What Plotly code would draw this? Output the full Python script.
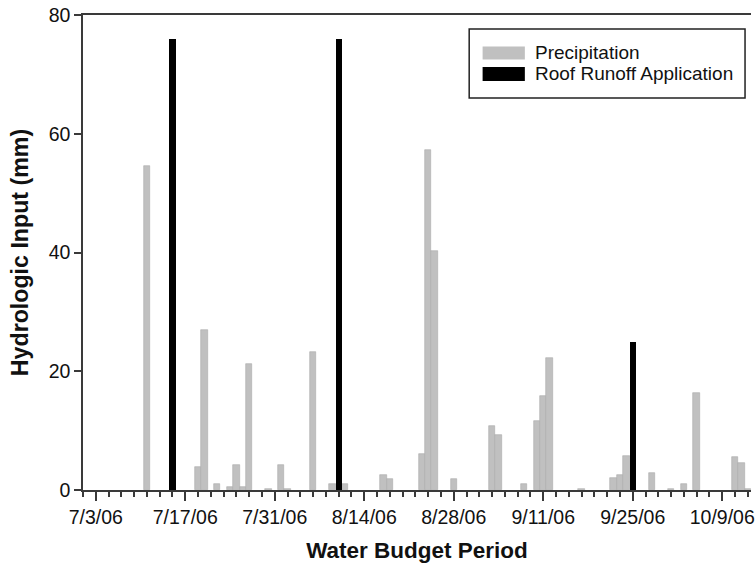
import plotly.graph_objects as go

# Data
precip_dates = ["2006-07-11", "2006-07-19", "2006-07-20", "2006-07-22", "2006-07-24",
                "2006-07-25", "2006-07-26", "2006-07-27", "2006-07-30", "2006-08-01",
                "2006-08-02", "2006-08-06", "2006-08-09", "2006-08-11", "2006-08-17",
                "2006-08-18", "2006-08-23", "2006-08-24", "2006-08-25", "2006-08-28",
                "2006-09-03", "2006-09-04", "2006-09-08", "2006-09-10", "2006-09-11",
                "2006-09-12", "2006-09-17", "2006-09-22", "2006-09-23", "2006-09-24",
                "2006-09-28", "2006-10-01", "2006-10-03", "2006-10-05", "2006-10-11",
                "2006-10-12", "2006-10-13"]
precip_mm = [54.5, 3.8, 27.0, 1.0, 0.5,
             4.2, 0.5, 21.3, 0.2, 4.2,
             0.2, 23.2, 1.0, 1.0, 2.6,
             1.9, 6.1, 57.2, 40.2, 1.9,
             10.7, 9.2, 1.0, 11.7, 15.8,
             22.3, 0.2, 2.0, 2.5, 5.8,
             2.9, 0.2, 1.0, 16.3, 5.6,
             4.6, 0.2]

roof_dates = ["2006-07-15", "2006-08-10", "2006-09-25"]
roof_mm = [76.0, 76.0, 25.0]

y_ticks = [0, 20, 40, 60, 80]

DAY = 86400000
FONT = "Liberation Sans, Arial, sans-serif"
AXC = "#3a3a3a"

fig = go.Figure()
fig.add_trace(go.Bar(x=precip_dates, y=precip_mm, name="Precipitation",
                     width=DAY, marker=dict(color="#c0c0c0", line=dict(color="#a9a9a9", width=0.6)),
                     showlegend=False))
fig.add_trace(go.Bar(x=roof_dates, y=roof_mm, name="Roof Runoff Application",
                     width=DAY, marker=dict(color="#000000", line=dict(width=0)),
                     showlegend=False))

fig.update_layout(
    width=755, height=568,
    margin=dict(l=83, r=0, t=15, b=78),
    paper_bgcolor="white", plot_bgcolor="white",
    barmode="overlay", bargap=0,
    font=dict(family=FONT, size=19.5, color="#111"),
)

fig.update_xaxes(
    type="date",
    range=["2006-07-01 00:00", "2006-10-13 12:00"],
    tick0="2006-07-03", dtick=14 * DAY, tickformat="%-m/%-d/%y",
    ticks="outside", ticklen=9, tickwidth=1.5, tickcolor=AXC,
    minor=dict(tick0="2006-07-03", dtick=2 * DAY, ticks="outside", ticklen=5,
               tickwidth=1.5, tickcolor=AXC, showgrid=False),
    showline=True, linecolor=AXC, linewidth=1.5, mirror=True,
    showgrid=False, zeroline=False,
    ticklabeloverflow="allow",
    tickfont=dict(size=19.5),
    title=dict(text="<b>Water Budget Period</b>", font=dict(size=22.5), standoff=15),
)
fig.update_yaxes(
    range=[0, 80], tickvals=y_ticks,
    ticks="outside", ticklen=7, tickwidth=1.5, tickcolor=AXC,
    showline=True, linecolor=AXC, linewidth=1.5,
    showgrid=False, zeroline=False,
    tickfont=dict(size=19.5),
    title=dict(text="<b>Hydrologic Input (mm)</b>", font=dict(size=23.2), standoff=14),
)

# Legend (drawn manually to match wide swatches)
def px(x):
    return (x - 83) / 672

def py(y):
    return (490 - y) / 475

fig.add_shape(type="rect", xref="paper", yref="paper",
              x0=px(471.5), x1=px(749), y0=py(98), y1=py(29),
              line=dict(color="#222", width=1.5), fillcolor="white", layer="above")
fig.add_shape(type="rect", xref="paper", yref="paper",
              x0=px(485), x1=px(527.5), y0=py(59.5), y1=py(46.5),
              line=dict(width=0), fillcolor="#c0c0c0", layer="above")
fig.add_shape(type="rect", xref="paper", yref="paper",
              x0=px(485), x1=px(527.5), y0=py(81), y1=py(67),
              line=dict(width=0), fillcolor="#000000", layer="above")
fig.add_annotation(xref="paper", yref="paper", x=px(536), y=py(53), text="Precipitation",
                   showarrow=False, xanchor="left", yanchor="middle", font=dict(size=19, color="#111"))
fig.add_annotation(xref="paper", yref="paper", x=px(536), y=py(74), text="Roof Runoff Application",
                   showarrow=False, xanchor="left", yanchor="middle", font=dict(size=19, color="#111"))

fig.write_html("out.html")
